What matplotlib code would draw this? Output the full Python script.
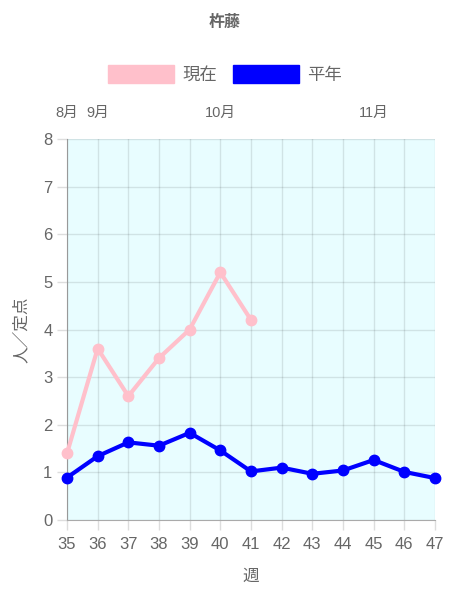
import matplotlib
matplotlib.use("Agg")
import matplotlib.pyplot as plt
from matplotlib.patches import Patch

plt.rcParams['font.family'] = ['Liberation Sans', 'Noto Sans CJK JP', 'DejaVu Sans']

# data
weeks = [35, 36, 37, 38, 39, 40, 41, 42, 43, 44, 45, 46, 47]
current = [1.4, 3.6, 2.6, 3.4, 4.0, 5.2, 4.2]
normal = [0.89, 1.34, 1.63, 1.56, 1.83, 1.46, 1.02, 1.1, 0.97, 1.04, 1.26, 1.01, 0.88]
month_weeks = [35, 36, 40, 45]
month_labels = ['8月', '9月', '10月', '11月']

title = '杵藤'
series_names = ['現在', '平年']
colors = ['pink', 'blue']
text_color = '#666666'


def plot_chart():
    fig = plt.figure(figsize=(4.5, 6), dpi=100)
    ax = fig.add_axes([67 / 450, 80 / 600, 368 / 450, 381 / 600])
    ax.set_facecolor('#e8fdff')

    ax.plot(weeks[:len(current)], current, color=colors[0], lw=3, marker='o', ms=7.5,
            zorder=3, clip_on=False)
    ax.plot(weeks, normal, color=colors[1], lw=3, marker='o', ms=7.5, zorder=4, clip_on=False)

    ax.set_xlim(weeks[0], weeks[-1])
    ax.set_ylim(0, 8)
    ax.set_xticks(weeks)
    ax.set_yticks(range(0, 9))
    ax.grid(True, color='#000000', alpha=0.1, lw=1)
    ax.tick_params(colors=text_color, labelsize=12, length=7, width=1)
    ax.tick_params(axis='both', color='#dddddd')
    ax.tick_params(axis='x', pad=5)

    for side in ['top', 'right']:
        ax.spines[side].set_visible(False)
    ax.spines['left'].set_color('#999999')
    ax.spines['bottom'].set_color('#aaaaaa')

    ax.set_xlabel('週', color=text_color, fontsize=12, labelpad=12)
    ax.set_ylabel('人／定点', color=text_color, fontsize=12, labelpad=10)

    top = ax.secondary_xaxis('top')
    top.set_xticks(month_weeks)
    top.set_xticklabels(month_labels)
    top.tick_params(length=0, colors=text_color, labelsize=10.5, pad=14)
    top.spines['top'].set_visible(False)

    fig.text(0.5, 1 - 22 / 600, title, ha='center', va='center', fontsize=11.5,
             fontweight='bold', color=text_color)

    handles = [Patch(facecolor=c, edgecolor=c) for c in colors]
    fig.legend(handles, series_names, loc='center', bbox_to_anchor=(0.5, 1 - 74 / 600),
               ncol=2, frameon=False, fontsize=12.5, handlelength=3.8, handleheight=1.3,
               columnspacing=0.9, handletextpad=0.5, labelcolor=text_color)

    fig.savefig('out.png', dpi=100)


if __name__ == "__main__":
    plot_chart()
